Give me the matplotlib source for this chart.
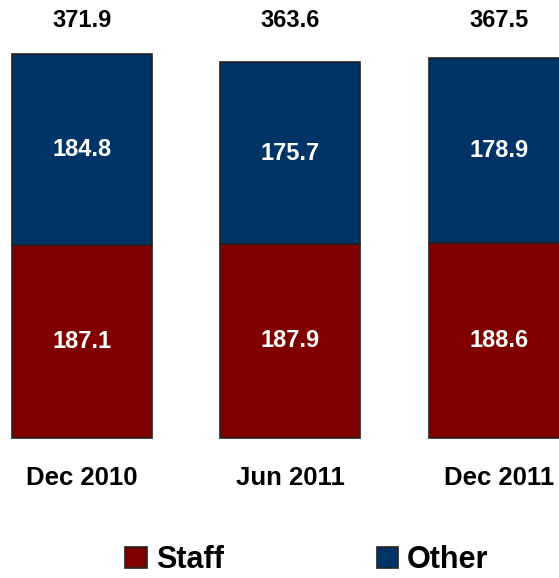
import matplotlib
matplotlib.use("Agg")
import matplotlib.pyplot as plt
import numpy as np

categories = ["Dec 2010", "Jun 2011", "Dec 2011"]
staff = [187.1, 187.9, 188.6]
other = [184.8, 175.7, 178.9]
totals = [371.9, 363.6, 367.5]

red = "#800000"
navy = "#003366"

plt.rcParams["font.family"] = ["Liberation Sans", "DejaVu Sans"]
plt.rcParams["font.weight"] = "bold"

fig = plt.figure(figsize=(5.59, 5.78), dpi=100)
ax = fig.add_axes([0, 0, 1, 1])
ax.axis("off")

x = np.arange(len(categories))
w = 0.671
b1 = ax.bar(x, staff, w, color=red, edgecolor="#222222", linewidth=1.2, label="Staff")
b2 = ax.bar(x, other, w, bottom=staff, color=navy, edgecolor="#222222", linewidth=1.2, label="Other")

for i in range(len(categories)):
    ax.text(x[i], staff[i] / 2, f"{staff[i]:.1f}", color="white", ha="center", va="center",
            fontsize=17, fontweight="bold")
    ax.text(x[i], staff[i] + other[i] / 2, f"{other[i]:.1f}", color="white", ha="center",
            va="center", fontsize=17, fontweight="bold")
    ax.text(x[i], 0.964, f"{totals[i]:.1f}", transform=ax.get_xaxis_transform(),
            ha="center", va="center", fontsize=17, fontweight="bold")
    ax.text(x[i], 0.173, categories[i], transform=ax.get_xaxis_transform(),
            ha="center", va="center", fontsize=18.5, fontweight="bold")

ax.set_xlim(-0.393, 2.288)
ax.set_ylim(-135.5, 424)

fig.legend(handles=[b1, b2], labels=["Staff", "Other"], loc="center",
           bbox_to_anchor=(0.549, 0.031), ncol=2, frameon=False,
           prop={"size": 22, "weight": "bold"}, handlelength=0.7, handleheight=0.7,
           handletextpad=0.3, columnspacing=5.0, borderpad=0, borderaxespad=0)

fig.savefig("out.png", dpi=100)
